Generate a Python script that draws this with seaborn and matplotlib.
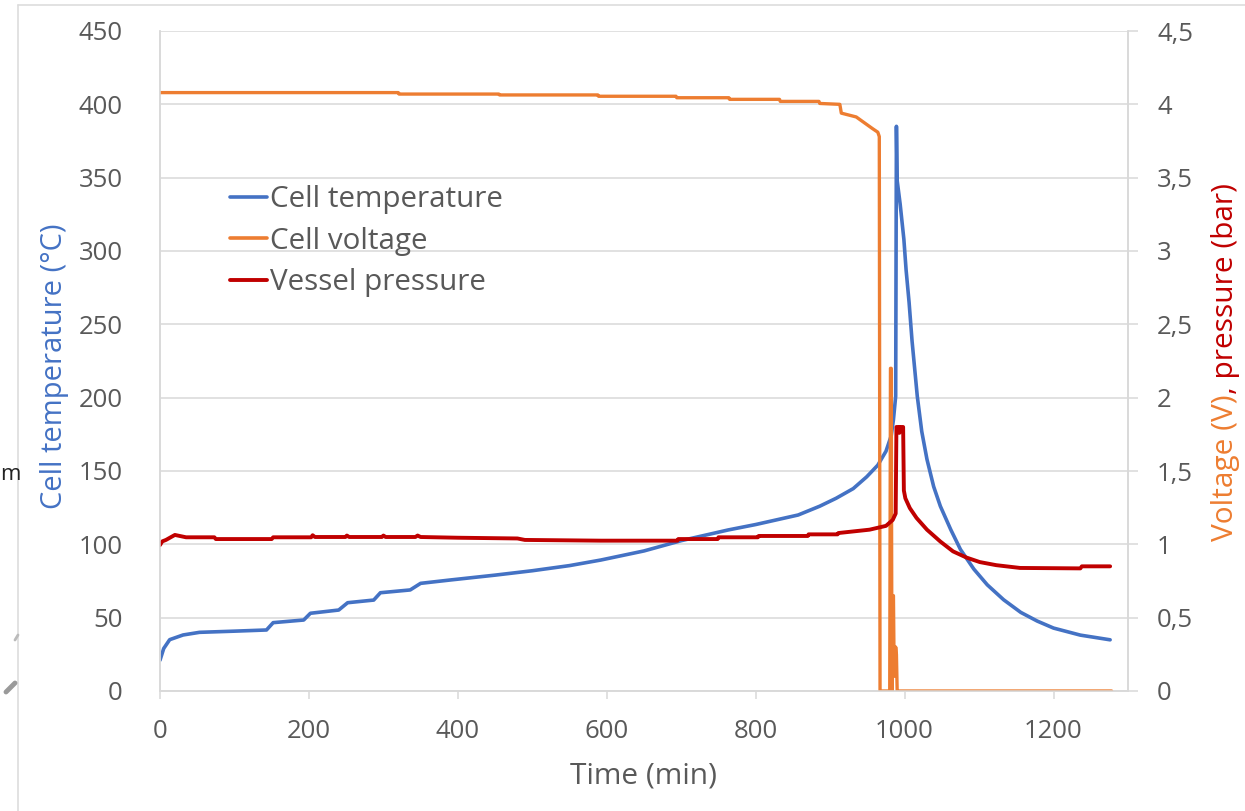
import matplotlib
matplotlib.use("Agg")
import matplotlib.pyplot as plt
from matplotlib.lines import Line2D
import seaborn as sns

# ---------------- data ----------------
temp_time = [0, 5, 13, 31, 53, 100, 143, 152, 193, 202, 240, 252, 287, 296, 336, 350, 390,
             450, 500, 550, 592, 650, 700, 763, 800, 857, 886, 908, 931, 949, 964, 975,
             982, 985, 988, 989, 990, 994, 999, 1002, 1006, 1010, 1017, 1023, 1030, 1039,
             1048, 1062, 1075, 1093, 1111, 1133, 1156, 1178, 1200, 1236, 1276]
temp_vals = [21, 29, 35, 38.2, 40, 40.8, 41.6, 46.6, 48.4, 53, 55.2, 60.2, 62, 67, 68.9, 73.4, 75.7,
             79, 82, 85.5, 89.3, 95.5, 102.5, 109.8, 113.5, 120, 126, 131.4, 138, 146, 154, 163.5,
             174, 185, 201, 385, 348, 332, 308, 287, 265, 238.6, 201, 177, 158, 139.4,
             126, 110, 96.5, 83.1, 72.4, 62.2, 53.6, 47.7, 42.9, 38.1, 34.9]

volt_time = [0, 320, 321, 455, 456, 588, 589, 693, 694, 764, 765, 832, 833, 885, 886, 913,
             915, 935, 957, 964, 966, 967, 980, 981, 982, 983, 984, 985, 986, 988, 989,
             990, 992, 1278]
volt_vals = [4.08, 4.08, 4.07, 4.07, 4.064, 4.064, 4.055, 4.055, 4.045, 4.045, 4.034, 4.034,
             4.02, 4.02, 4.006, 4.0, 3.94, 3.914, 3.834, 3.81, 3.78, 0, 0, 2.2, 2.2, 0, 0.65,
             0.65, 0.1, 0.3, 0.25, 0, 0, 0]

pres_time = [0, 3, 8, 15, 20, 35, 73, 75, 150, 152, 203, 205, 208, 249, 251, 254, 298, 300,
             303, 343, 346, 350, 400, 480, 490, 592, 695, 696, 749, 750, 803, 804, 870, 871,
             910, 911, 953, 975, 984, 988, 989, 992, 993, 994, 998, 999, 1001, 1007, 1016,
             1030, 1048, 1065, 1083, 1101, 1123, 1155, 1236, 1238, 1276]
pres_vals = [0.995, 1.02, 1.03, 1.05, 1.064, 1.048, 1.048, 1.036, 1.036, 1.048, 1.048, 1.062,
             1.05, 1.05, 1.06, 1.05, 1.05, 1.06, 1.05, 1.05, 1.06, 1.05, 1.045, 1.04, 1.03,
             1.025, 1.025, 1.036, 1.036, 1.048, 1.048, 1.057, 1.057, 1.068, 1.068, 1.077,
             1.10, 1.126, 1.166, 1.21, 1.80, 1.80, 1.76, 1.80, 1.80, 1.367, 1.314, 1.247, 1.18,
             1.10, 1.019, 0.952, 0.91, 0.879, 0.858, 0.839, 0.836, 0.85, 0.85]

series_labels = ["Cell temperature", "Cell voltage", "Vessel pressure"]
left_ticks = [0, 50, 100, 150, 200, 250, 300, 350, 400, 450]
right_ticks = [0, 0.5, 1, 1.5, 2, 2.5, 3, 3.5, 4, 4.5]
right_tick_labels = ["0", "0,5", "1", "1,5", "2", "2,5", "3", "3,5", "4", "4,5"]
x_ticks = [0, 200, 400, 600, 800, 1000, 1200]

# ---------------- style ----------------
sns.set_theme(style="white")
plt.rcParams['font.family'] = ['Open Sans', 'DejaVu Sans']

BLUE = "#4472C4"
ORANGE = "#ED7D31"
RED = "#C00000"
GRID = "#D9D9D9"
TXT = "#595959"

W, H = 1245, 811
fig = plt.figure(figsize=(W / 100, H / 100), dpi=100)
ax = fig.add_axes([160 / W, 120 / H, 968 / W, 660 / H])
ax2 = ax.twinx()

sns.lineplot(x=temp_time, y=temp_vals, ax=ax, color=BLUE, linewidth=2.6,
             sort=False, estimator=None, label=series_labels[0], legend=False)
sns.lineplot(x=volt_time, y=volt_vals, ax=ax2, color=ORANGE, linewidth=2.4,
             sort=False, estimator=None, label=series_labels[1], legend=False)
sns.lineplot(x=pres_time, y=pres_vals, ax=ax2, color=RED, linewidth=2.8,
             sort=False, estimator=None, label=series_labels[2], legend=False)

ax.set_xlim(0, 1300)
ax.set_ylim(0, 450)
ax2.set_ylim(0, 4.5)
ax.set_xticks(x_ticks)
ax.set_yticks(left_ticks)
ax2.set_yticks(right_ticks)
ax2.set_yticklabels(right_tick_labels)

ax.grid(axis='y', color=GRID, linewidth=1.1)
ax.grid(axis='x', visible=False)
ax2.grid(False)
ax.set_axisbelow(True)

for a in (ax, ax2):
    for s in a.spines.values():
        s.set_color(GRID)
        s.set_linewidth(1.1)
    a.spines['top'].set_visible(False)

ax.tick_params(axis='x', which='both', bottom=True, direction='out', length=6, width=1.1,
               color=GRID, labelcolor=TXT, labelsize=18.5, pad=14)
ax.tick_params(axis='y', left=False, labelcolor=TXT, labelsize=18.5, pad=21)
ax2.tick_params(axis='y', right=True, direction='out', length=7, width=1.1, color=GRID,
                labelcolor=TXT, labelsize=18.5, pad=14)
ax2.set_ylabel("")

ax.set_xlabel("Time (min)", fontsize=21.5, color=TXT, labelpad=13)
ax.set_ylabel("Cell temperature (°C)", fontsize=21, color=BLUE)
ax.yaxis.set_label_coords(-0.094, 0.4917)

# legend
handles = [Line2D([], [], color=BLUE, lw=2.6), Line2D([], [], color=ORANGE, lw=2.6),
           Line2D([], [], color=RED, lw=2.8)]
leg = fig.legend(handles, series_labels, loc='upper left',
                 bbox_to_anchor=(230 / W, 1 - 185 / H), frameon=False,
                 fontsize=21.3, handlelength=1.25, handletextpad=0.1, labelspacing=0.43,
                 borderpad=0, borderaxespad=0)
for t in leg.get_texts():
    t.set_color(TXT)

# right axis label in two colours
fig.canvas.draw()
r = fig.canvas.get_renderer()
t1 = fig.text(1225 / W, 1 - 541 / H, "Voltage (V)", rotation=90, color=ORANGE,
              fontsize=21.5, ha='center', va='bottom')
bb = t1.get_window_extent(renderer=r)
fig.text(1225 / W, bb.y1 / H, ", pressure (bar)", rotation=90, color=RED,
         fontsize=21.5, ha='center', va='bottom')

# chart-area border and cropped artefacts
fig.add_artist(Line2D([18 / W, 18 / W], [0, 1 - 5 / H], transform=fig.transFigure,
                      color="#DDDDDD", lw=1.2))
fig.add_artist(Line2D([18 / W, 1], [1 - 5 / H, 1 - 5 / H], transform=fig.transFigure,
                      color="#DDDDDD", lw=1.2))
fig.text(0.5 / W, 1 - 474 / H, "m", color="#222222", fontsize=16, ha='left', va='center')
fig.add_artist(Line2D([6 / W, 15 / W], [1 - 692 / H, 1 - 683 / H], transform=fig.transFigure,
                      color="#9A9A9A", lw=3.5, solid_capstyle='round'))
fig.add_artist(Line2D([15 / W, 18 / W], [1 - 640 / H, 1 - 635 / H], transform=fig.transFigure,
                      color="#BBBBBB", lw=2, solid_capstyle='round'))

fig.savefig("out.png", dpi=100, facecolor="white")
